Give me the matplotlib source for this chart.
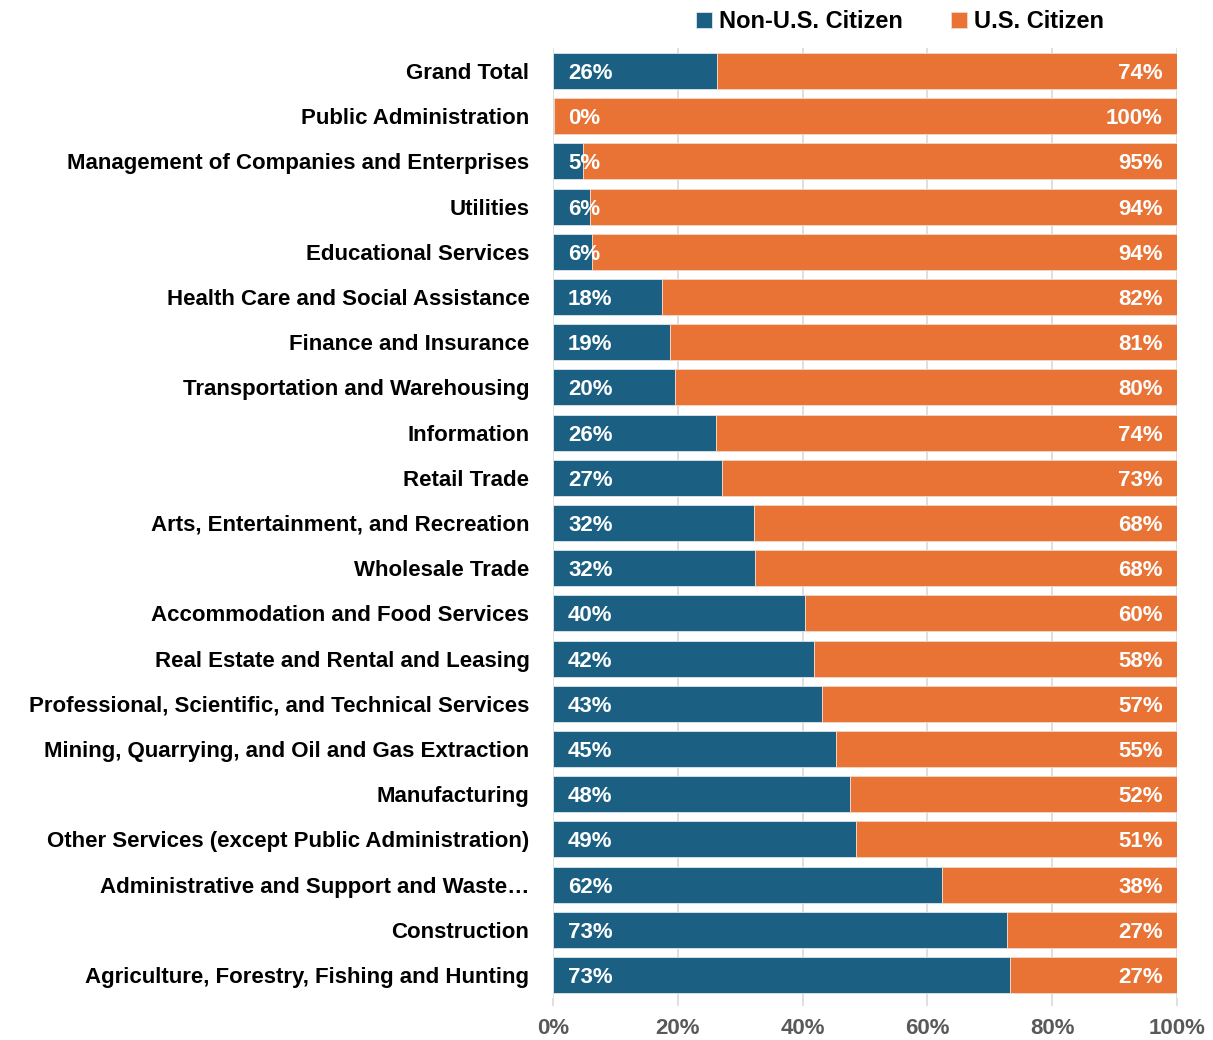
import matplotlib.pyplot as plt
import numpy as np

plt.rcParams['font.family'] = ['Liberation Sans', 'DejaVu Sans']
plt.rcParams['font.weight'] = 'bold'

industrias = ['Grand Total', 'Public Administration', 'Management of Companies and Enterprises',
              'Utilities', 'Educational Services', 'Health Care and Social Assistance',
              'Finance and Insurance', 'Transportation and Warehousing', 'Information',
              'Retail Trade', 'Arts, Entertainment, and Recreation', 'Wholesale Trade',
              'Accommodation and Food Services', 'Real Estate and Rental and Leasing',
              'Professional, Scientific, and Technical Services',
              'Mining, Quarrying, and Oil and Gas Extraction', 'Manufacturing',
              'Other Services (except Public Administration)',
              'Administrative and Support and Waste\u2026', 'Construction',
              'Agriculture, Forestry, Fishing and Hunting']
nao_cidadao = [26.3, 0.2, 4.8, 5.9, 6.3, 17.5, 18.8, 19.6, 26.1, 27.1, 32.2, 32.4,
               40.4, 41.8, 43.1, 45.4, 47.6, 48.6, 62.3, 72.8, 73.2]
rot_nao = ['26%', '0%', '5%', '6%', '6%', '18%', '19%', '20%', '26%', '27%', '32%', '32%',
           '40%', '42%', '43%', '45%', '48%', '49%', '62%', '73%', '73%']
rot_sim = ['74%', '100%', '95%', '94%', '94%', '82%', '81%', '80%', '74%', '73%', '68%', '68%',
           '60%', '58%', '57%', '55%', '52%', '51%', '38%', '27%', '27%']

azul = '#1B6083'
laranja = '#E97334'

nao = np.array(nao_cidadao)
sim = 100 - nao
y = np.arange(len(industrias))

fig = plt.figure(figsize=(12.13, 10.4), dpi=100)
ax = fig.add_axes([553/1213, 1 - 997.6/1040, 624/1213, 949.2/1040])

ax.barh(y, nao, height=0.8, color=azul, edgecolor='#dde6ee', linewidth=0.6,
        label='Non-U.S. Citizen', zorder=2)
ax.barh(y, sim, left=nao, height=0.8, color=laranja, edgecolor='#f4d9c8', linewidth=0.6,
        label='U.S. Citizen', zorder=2)

for i in range(len(industrias)):
    ax.text(2.4, y[i], rot_nao[i], color='white', fontsize=16, fontweight='bold',
            va='center_baseline', ha='left', zorder=3)
    ax.text(97.7, y[i], rot_sim[i], color='white', fontsize=16, fontweight='bold',
            va='center_baseline', ha='right', zorder=3)

ax.set_xlim(0, 100)
ax.set_ylim(len(industrias) - 0.5, -0.5)
ax.set_yticks(y)
ax.set_yticklabels(industrias, fontsize=16, fontweight='bold')
ax.set_xticks([0, 20, 40, 60, 80, 100])
ax.set_xticklabels(['0%', '20%', '40%', '60%', '80%', '100%'], fontsize=16,
                   fontweight='bold', color='#595959')
ax.tick_params(axis='y', length=0, pad=17)
ax.tick_params(axis='x', length=6, color='#d9d9d9', width=1.2, pad=9)
ax.grid(axis='x', color='#d9d9d9', linewidth=1.2, zorder=0)
for s in ax.spines.values():
    s.set_visible(False)

leg = fig.legend(loc='center', bbox_to_anchor=(900/1213, 1 - 22/1040), ncol=2, frameon=False,
                 fontsize=17, handlelength=0.7, handleheight=0.7, handletextpad=0.3,
                 columnspacing=2.0)

fig.savefig('out.png', dpi=100)
